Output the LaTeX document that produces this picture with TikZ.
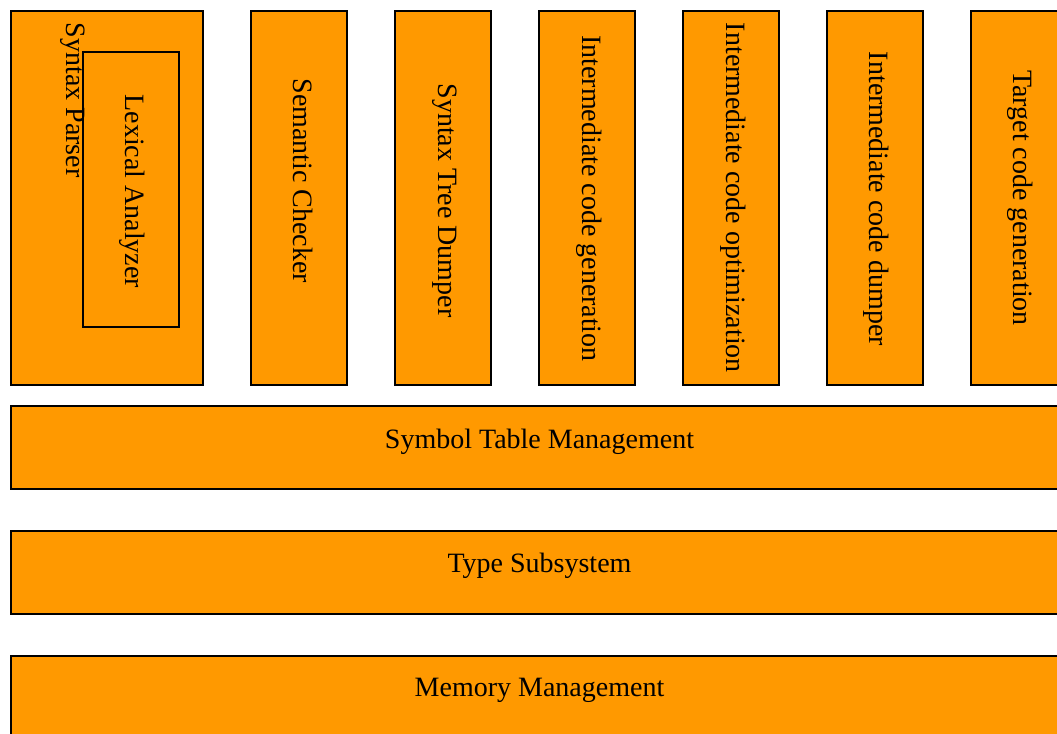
\documentclass[tikz,border=0pt]{standalone}
\usepackage{fontspec}
\setmainfont{Liberation Serif}
\definecolor{compfill}{RGB}{255,153,0}
\begin{document}
\begin{tikzpicture}[x=1bp,y=-1bp,
  box/.style={draw=black, fill=compfill, line width=1.4bp, rectangle,
              inner sep=0pt, outer sep=0pt},
  colbox/.style={box, minimum width=96bp, minimum height=374bp},
  rowbox/.style={box, minimum width=1056bp, minimum height=83bp},
  vlabel/.style={rotate=-90, anchor=base west, inner sep=0pt,
                 font=\fontsize{28bp}{32bp}\selectfont},
  hlabel/.style={anchor=base, inner sep=0pt,
                 font=\fontsize{28bp}{32bp}\selectfont}]
\useasboundingbox (0,0) rectangle (1057,734);
\clip (0,0) rectangle (1057,734);

% front end: parser with the embedded lexer
\node[box, minimum width=192bp, minimum height=374bp] (parser) at (107,198) {};
\node[box, minimum width=96bp, minimum height=275bp] (lexer) at (131,189.5) {};
\node[vlabel] (parserlbl) at (66.5,22.5) {Syntax Parser};
\node[vlabel] (lexerlbl) at (125.5,94.3) {Lexical Analyzer};

% compiler passes
\node[colbox] (sema) at (299,198) {};
\node[vlabel] (semalbl) at (293.5,78.3) {Semantic Checker};

\node[colbox] (astdump) at (443,198) {};
\node[vlabel] (astdumplbl) at (438.5,83.3) {Syntax Tree Dumper};

\node[colbox] (icgen) at (587,198) {};
\node[vlabel] (icgenlbl) at (582,35) {Intermediate code generation};

\node[colbox] (icopt) at (731,198) {};
\node[vlabel] (icoptlbl) at (726,22.7) {Intermediate code optimization};

\node[colbox] (icdump) at (875,198) {};
\node[vlabel] (icdumplbl) at (869.5,51.7) {Intermediate code dumper};

\node[colbox] (target) at (1019,198) {};
\node[vlabel] (targetlbl) at (1013.5,70) {Target code generation};

% shared subsystems
\node[rowbox] (symtab) at (539,447.5) {};
\node[hlabel] (symtablbl) at (539.5,448.3) {Symbol Table Management};

\node[rowbox] (types) at (539,572.5) {};
\node[hlabel] (typeslbl) at (539.5,572.7) {Type Subsystem};

\node[rowbox] (memory) at (539,697.5) {};
\node[hlabel] (memorylbl) at (539.5,696.7) {Memory Management};
\end{tikzpicture}
\end{document}
